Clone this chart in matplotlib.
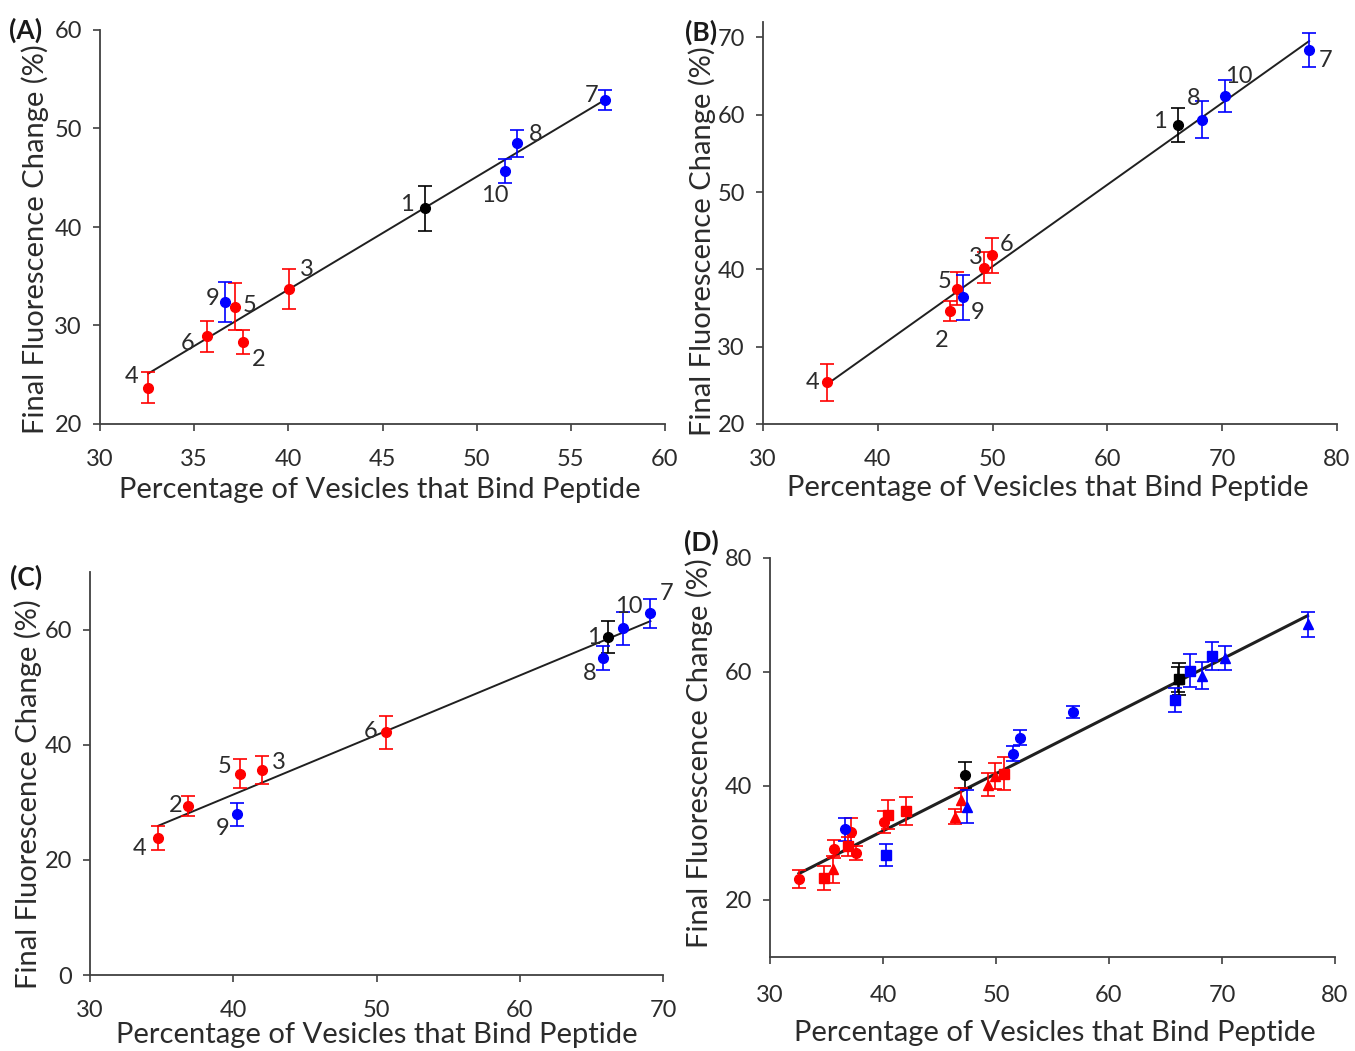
import numpy as np
import matplotlib.pyplot as plt

plt.rcParams['font.family'] = ['Lato', 'DejaVu Sans']

# point ids 1..10 (1 = black, 2-6 = red, 7-10 = blue)
ids = [1, 2, 3, 4, 5, 6, 7, 8, 9, 10]
colors = ['black'] + ['#ff0000'] * 5 + ['#0000ff'] * 4

# panel A
a_x = [47.26, 37.58, 40.05, 32.56, 37.17, 35.67, 56.84, 52.14, 36.64, 51.52]
a_y = [41.9, 28.3, 33.7, 23.7, 31.9, 28.9, 52.9, 48.5, 32.4, 45.7]
a_err = [2.3, 1.2, 2.0, 1.55, 2.4, 1.6, 1.05, 1.35, 2.0, 1.25]

# panel B
b_x = [66.14, 46.33, 49.29, 35.54, 46.9, 49.93, 77.57, 68.27, 47.4, 70.26]
b_y = [58.7, 34.6, 40.2, 25.4, 37.5, 41.8, 68.4, 59.35, 36.4, 62.45]
b_err = [2.2, 1.3, 2.0, 2.4, 2.1, 2.3, 2.2, 2.4, 2.9, 2.1]

# panel C
c_x = [66.16, 36.86, 42.02, 34.77, 40.48, 50.69, 69.12, 65.8, 40.24, 67.2]
c_y = [58.7, 29.4, 35.6, 23.8, 35.0, 42.15, 62.8, 55.1, 27.9, 60.2]
c_err = [2.8, 1.7, 2.4, 2.1, 2.5, 2.9, 2.5, 2.1, 1.95, 2.9]

# label offsets in pixels
a_off = [(-18, 4), (16, -17), (18, 20), (-17, 11), (15, 1), (-19, -7), (-14, 4), (19, 9), (-12, 3), (-11, -25)]
b_off = [(-18, 3), (-9, -29), (-9, 10), (-14, 0), (-12, 7), (15, 11), (16, -11), (-9, 21), (15, -15), (14, 19)]
c_off = [(-14, 0), (-13, 0), (17, 8), (-19, -11), (-16, 7), (-16, 1), (16, 20), (-13, -16), (-14, -14), (6, 22)]

W, H = 1355, 1051
fig = plt.figure(figsize=(W / 100, H / 100), dpi=100)

def rect(l, r, top, bot):
    return [l / W, 1 - bot / H, (r - l) / W, (bot - top) / H]

gray = '#404040'
txt = '#2b2b2b'
tick_fs = 17
lab_fs = 21
num_fs = 17

def style(ax, xlim, ylim, xt, yt, xl_pos, yl_pos):
    ax.set_xlim(*xlim)
    ax.set_ylim(*ylim)
    ax.set_xticks(xt)
    ax.set_yticks(yt)
    for s in ['top', 'right']:
        ax.spines[s].set_visible(False)
    for s in ['left', 'bottom']:
        ax.spines[s].set_color(gray)
        ax.spines[s].set_linewidth(1.3)
    ax.tick_params(direction='out', length=5, width=1.2, color=gray,
                   labelsize=tick_fs, labelcolor=txt)
    ax.tick_params(axis='x', pad=13)
    ax.tick_params(axis='y', pad=8)
    ax.set_xlabel('Percentage of Vesicles that Bind Peptide', fontsize=lab_fs, color=txt)
    ax.set_ylabel('Final Fluorescence Change (%)', fontsize=lab_fs, color=txt)
    ax.xaxis.label.set_va('center')
    ax.yaxis.label.set_va('center')
    ax.xaxis.set_label_coords(*xl_pos)
    ax.yaxis.set_label_coords(*yl_pos)

def fit_line(ax, x, y, lw=1.4):
    x = np.asarray(x)
    k, b = np.polyfit(x, np.asarray(y), 1)
    xs = np.array([x.min(), x.max()])
    ax.plot(xs, k * xs + b, color='#202020', lw=lw, zorder=1)

def points(ax, x, y, err, marker='o', ms=7):
    for i in range(len(ids)):
        ax.errorbar(x[i], y[i], yerr=err[i], fmt=marker, color=colors[i], ms=ms,
                    ecolor=colors[i], elinewidth=1.2, capsize=5, capthick=1.2,
                    zorder=3)

def numbers(ax, x, y, off):
    for i in range(len(ids)):
        ax.annotate(str(ids[i]), (x[i], y[i]), xytext=off[i], textcoords='offset pixels',
                    ha='center', va='center', fontsize=num_fs, color=txt)

def panel_tag(name, px, py):
    fig.text(px / W, 1 - py / H, name, fontsize=19, fontweight='bold',
             ha='center', va='center', color='#1a1a1a')

panels = [
    ('(A)', a_x, a_y, a_err, a_off, rect(100, 665, 30, 424), (30, 60), (20, 60),
     range(30, 61, 5), range(20, 61, 10), (0.496, -0.1675), (-0.115, 0.47), (26, 30)),
    ('(B)', b_x, b_y, b_err, b_off, rect(763, 1337, 22, 424), (30, 80), (20, 72),
     range(30, 81, 10), range(20, 71, 10), (0.497, -0.159), (-0.106, 0.455), (701, 32)),
    ('(C)', c_x, c_y, c_err, c_off, rect(90, 663, 572, 975), (30, 70), (0, 70),
     range(30, 71, 10), range(0, 61, 20), (0.5, -0.149), (-0.108, 0.45), (26, 577)),
]

for name, x, y, err, off, r, xl, yl, xt, yt, xlp, ylp, pos in panels:
    ax = fig.add_axes(r)
    style(ax, xl, yl, xt, yt, xlp, ylp)
    fit_line(ax, x, y)
    points(ax, x, y, err)
    numbers(ax, x, y, off)
    panel_tag(name, pos[0], pos[1])

# panel D: all three data sets together
ax = fig.add_axes(rect(770, 1335, 558, 957))
style(ax, (30, 80), (10, 80), range(30, 81, 10), range(20, 81, 20),
      (0.504, -0.19), (-0.126, 0.51))
ax.tick_params(axis='x', pad=15)
fit_line(ax, a_x + b_x + c_x, a_y + b_y + c_y, lw=2.2)
points(ax, a_x, a_y, a_err, 'o')
points(ax, b_x, b_y, b_err, '^')
points(ax, c_x, c_y, c_err, 's', ms=6.5)
panel_tag('(D)', 701, 542)

plt.savefig('out.png', dpi=100)
